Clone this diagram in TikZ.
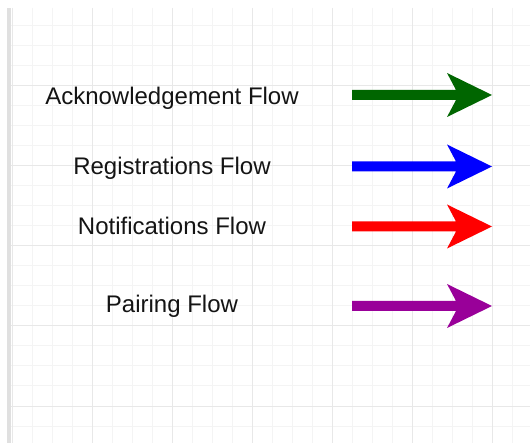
\documentclass[tikz,border=0pt]{standalone}
\usepackage{fontspec}
\setmainfont{Liberation Sans}
\begin{document}
\begin{tikzpicture}[x=1pt,y=-1pt,
  minorline/.style={draw=black!4.5,line width=1pt},
  majorline/.style={draw=black!9,line width=1pt},
  edgeband/.style={fill=black!12},
  flowlabel/.style={anchor=base,font=\fontsize{24}{28}\selectfont,text=black!92,inner sep=0pt},
  flowarrow/.style={fill=#1,draw=none}]
\useasboundingbox (0,0) rectangle (530,443);
\fill[white] (0,0) rectangle (530,443);
% background grid
\foreach \x in {32,52,72,112,132,152,192,212,232,272,292,312,352,372,392,432,452,472,512}
  \draw[minorline] (\x,8) -- (\x,443);
\foreach \y in {26,46,66,106,126,146,186,206,226,266,286,306,346,366,386,426}
  \draw[minorline] (11,\y) -- (530,\y);
\foreach \x in {12,92,172,252,332,412,492}
  \draw[majorline] (\x,8) -- (\x,443);
\foreach \y in {86,166,246,326,406}
  \draw[majorline] (11,\y) -- (530,\y);
\fill[edgeband] (7,8) rectangle (11,443);
% legend labels
\node[flowlabel] (ack) at (172,105) {Acknowledgement Flow};
\node[flowlabel] (reg) at (172,175) {Registrations Flow};
\node[flowlabel] (noti) at (172,235) {Notifications Flow};
\node[flowlabel] (pair) at (172,313) {Pairing Flow};
% legend arrows
\foreach \name/\yy/\col in {ackarrow/95/{rgb,255:red,0;green,102;blue,0},
                             regarrow/166.5/{rgb,255:red,0;green,0;blue,255},
                             notiarrow/226.5/{rgb,255:red,255;green,0;blue,0},
                             pairarrow/306/{rgb,255:red,153;green,0;blue,153}} {
  \coordinate (\name) at (352,\yy);
  \fill[flowarrow=\col] (\name) ++(0,-5) -- ++(104,0) -- ++(-9,-17) -- ++(45,22)
    -- ++(-45,22) -- ++(9,-17) -- ++(-104,0) -- cycle;
}
\end{tikzpicture}
\end{document}
